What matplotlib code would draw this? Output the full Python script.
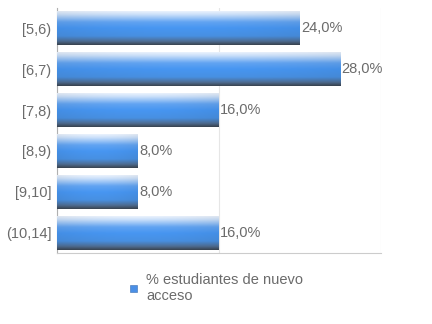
import numpy as np
import matplotlib
matplotlib.use("Agg")
import matplotlib.pyplot as plt
from matplotlib.colors import LinearSegmentedColormap
from matplotlib.patches import Rectangle

categories = ["[5,6)", "[6,7)", "[7,8)", "[8,9)", "[9,10]", "(10,14]"]
values = [24.0, 28.0, 16.0, 8.0, 8.0, 16.0]
series_name = "% estudiantes de nuevo\nacceso"

plt.rcParams['font.family'] = ['Liberation Sans', 'DejaVu Sans']
TXT = '#6b6b6b'
FS = 10.5

fig = plt.figure(figsize=(4.32, 3.24), dpi=100)
W, H = 432, 324
ax = fig.add_axes([57 / W, (H - 253) / H, (381 - 57) / W, (253 - 8) / H])

n = len(categories)
ypos = np.arange(n)[::-1]
bars = ax.barh(ypos, values, height=0.83, facecolor='none', edgecolor='none', zorder=3)

cmap = LinearSegmentedColormap.from_list('g', [
    (0.0, '#eaf2fd'), (0.1, '#c9dffa'), (0.32, '#62a4f2'), (0.5, '#4796f2'),
    (0.74, '#4890e2'), (0.9, '#4f6d92'), (1.0, '#3a4552')])
ny, nx = 64, 64
vy = np.linspace(0, 1, ny)[:, None]
vx = np.linspace(-1, 1, nx)[None, :]
grad = vy + 0.0 * vx
base = cmap(grad)
# slight horizontal darkening toward the ends
shade = 1 - 0.05 * np.abs(vx) ** 2
base[..., :3] *= shade[..., None]

for b, v in zip(bars, values):
    x0, y0 = b.get_x(), b.get_y()
    w, h = b.get_width(), b.get_height()
    im = ax.imshow(base, extent=(x0, x0 + w, y0, y0 + h), origin='upper',
                   aspect='auto', zorder=3, interpolation='bilinear')
    im.set_clip_path(b)
    ax.text(v + 0.1, b.get_y() + h / 2, f"{v:.1f}".replace('.', ',') + '%',
            va='center', ha='left', color=TXT, fontsize=FS, zorder=4)

ax.set_xlim(0, 32)
ax.set_ylim(-0.5, n - 0.5)
ax.set_xticks([0, 16, 32])
ax.set_xticklabels([])
ax.tick_params(axis='x', length=0)
ax.grid(axis='x', color='#e6e6e6', linewidth=0.8, zorder=0)
ax.set_yticks(ypos)
ax.set_yticklabels(categories, color=TXT, fontsize=FS)
ax.tick_params(axis='y', length=0, pad=4)
for s in ['top', 'right']:
    ax.spines[s].set_visible(False)
ax.spines['left'].set_color('#b0b0b0')
ax.spines['bottom'].set_color('#cccccc')
ax.spines['left'].set_linewidth(0.8)
ax.spines['bottom'].set_linewidth(0.8)

# legend
lx, ly, s = 130, 285, 7
fig.patches.append(Rectangle((lx / W, (H - ly - s) / H), s / W, s / H,
                             transform=fig.transFigure, facecolor='#4a8fe6',
                             edgecolor='#3b6fb0', linewidth=0.4))
fig.text(146 / W, (H - 288) / H, series_name, ha='left', va='center',
         color=TXT, fontsize=FS, linespacing=1.12)

fig.savefig('out.png', dpi=100)
